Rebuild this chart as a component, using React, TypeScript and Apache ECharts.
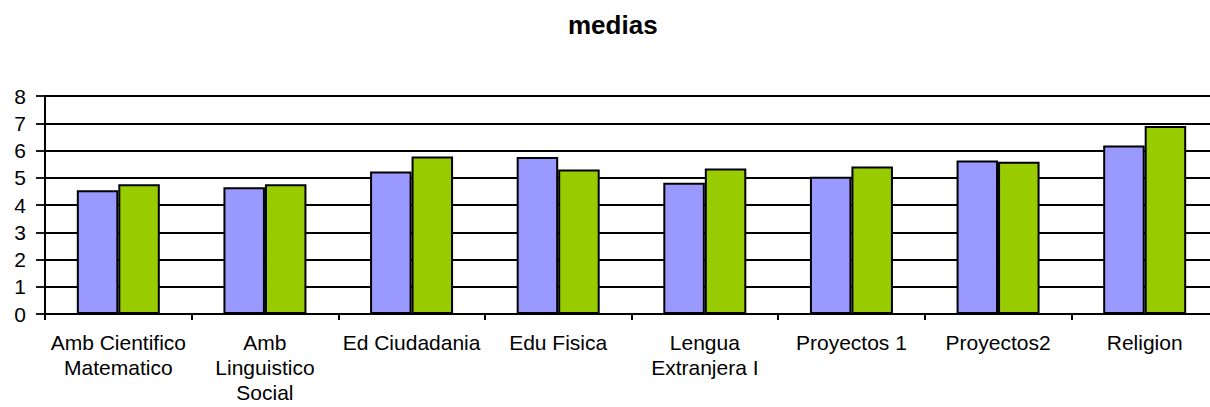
import React, { useEffect, useRef } from "react";
import * as echarts from "echarts";

const title = "medias";
const categories = [
  "Amb Cientifico\nMatematico",
  "Amb\nLinguistico\nSocial",
  "Ed Ciudadania",
  "Edu Fisica",
  "Lengua\nExtranjera I",
  "Proyectos 1",
  "Proyectos2",
  "Religion",
];
const seriesA = [4.54, 4.65, 5.23, 5.76, 4.82, 5.04, 5.63, 6.18];
const seriesB = [4.76, 4.76, 5.78, 5.30, 5.34, 5.41, 5.59, 6.9];
const yTicks = { min: 0, max: 8, interval: 1 };

export default function App() {
  const ref = useRef<HTMLDivElement>(null);
  useEffect(() => {
    if (!ref.current) return;
    const chart = echarts.init(ref.current, undefined, { renderer: "svg" });
    const font = "Arial, 'Liberation Sans', sans-serif";
    chart.setOption({
      animation: false,
      backgroundColor: "#ffffff",
      title: {
        text: title,
        left: 568,
        top: 12,
        padding: 0,
        textStyle: { fontFamily: font, fontSize: 26, fontWeight: "bold", color: "#000", lineHeight: 26 },
      },
      grid: {
        left: 45,
        right: -8,
        top: 96,
        bottom: 93,
        containLabel: false,
        outerBoundsMode: "none",
      },
      xAxis: {
        type: "category",
        data: categories,
        boundaryGap: true,
        axisLine: { show: true, lineStyle: { color: "#000", width: 2 } },
        axisTick: { show: true, interval: 0, length: 6, lineStyle: { color: "#000", width: 2 } },
        axisLabel: {
          interval: 0,
          margin: 16,
          fontFamily: font,
          fontSize: 21,
          lineHeight: 25,
          color: "#000",
          align: "center",
        },
        splitLine: { show: false },
        z: 10,
      },
      yAxis: {
        type: "value",
        min: yTicks.min,
        max: yTicks.max,
        interval: yTicks.interval,
        axisLine: { show: true, lineStyle: { color: "#000", width: 2 } },
        axisTick: { show: true, length: 9, lineStyle: { color: "#000", width: 1.8 } },
        axisLabel: { margin: 19, fontFamily: font, fontSize: 21, color: "#000" },
        splitLine: { show: true, lineStyle: { color: "#000", width: 1.8 } },
      },
      series: [
        {
          name: "Serie 1",
          type: "bar",
          data: seriesA,
          barWidth: 41.5,
          barGap: "0%",
          itemStyle: { color: "#9999FF", borderColor: "#000", borderWidth: 2 },
        },
        {
          name: "Serie 2",
          type: "bar",
          data: seriesB,
          barWidth: 41.5,
          barGap: "0%",
          itemStyle: { color: "#99CC00", borderColor: "#000", borderWidth: 2 },
        },
      ],
    });
    return () => chart.dispose();
  }, []);
  return (
    <div
      ref={ref}
      style={{ position: "fixed", left: 0, top: 0, width: 1210, height: 407, background: "#fff" }}
    />
  );
}
